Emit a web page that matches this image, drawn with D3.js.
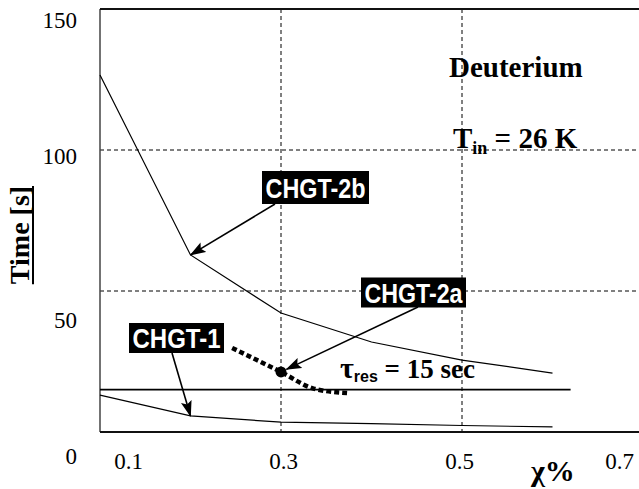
<!DOCTYPE html>
<html><head><meta charset="utf-8">
<script src="https://cdn.jsdelivr.net/npm/d3@7"></script>
<style>
html,body{margin:0;padding:0;background:#fff;}
svg{display:block;}
</style>
</head><body>
<svg id="c" width="639" height="489"></svg>
<script>
// ---- data ----
const xValues = [0.1, 0.2, 0.3, 0.4, 0.5, 0.6];
const chgt2b = [126.6, 62.8, 42.2, 31.9, 25.5, 20.9];
const chgt1 = [13.1, 5.7, 3.5, 3.0, 2.3, 1.8];
const chgt2aX = [0.246, 0.3, 0.336, 0.373];
const chgt2a = [29.8, 21.3, 15.4, 13.8];
const chgt2aPoint = [0.3, 21.3];
const tauRes = 15;
const tauResX = [0.1, 0.62];
const yTicks = [0, 50, 100, 150];
const xTicks = [0.1, 0.3, 0.5, 0.7];
const gridY = [50, 100];
const gridX = [0.3, 0.5];
const labels = ["CHGT-2b", "CHGT-2a", "CHGT-1"];

// ---- scales ----
const svg = d3.select("#c");
const x = d3.scaleLinear().domain([0.1, 0.7]).range([100, 643]);
const y = d3.scaleLinear().domain([0, 150]).range([432, 9]);
// tick labels in the original are displaced from their gridlines
const xLab = d3.scaleLinear().domain(xTicks).range([128, 283, 459, 619]);
const yLab = d3.scaleLinear().domain(yTicks).range([456, 320, 156, 20]);

const serif = "'Liberation Serif','Times New Roman',serif";
const sans = "'Liberation Sans',Arial,sans-serif";

// arrow marker
svg.append("defs").append("marker")
  .attr("id", "ah").attr("markerUnits", "userSpaceOnUse")
  .attr("markerWidth", 16).attr("markerHeight", 12)
  .attr("viewBox", "0 0 16 12").attr("refX", 15).attr("refY", 6)
  .attr("orient", "auto")
  .append("path").attr("d", "M0,0.5 L16,6 L0,11.5 L3,6 Z").attr("fill", "#000");

// gridlines
svg.selectAll(".gy").data(gridY).join("line")
  .attr("x1", x(0.1)).attr("x2", 639)
  .attr("y1", d => y(d)).attr("y2", d => y(d))
  .attr("stroke", "#000").attr("stroke-width", 1).attr("stroke-dasharray", "4,3");
svg.selectAll(".gx").data(gridX).join("line")
  .attr("x1", d => x(d)).attr("x2", d => x(d))
  .attr("y1", y(150)).attr("y2", y(0))
  .attr("stroke", "#000").attr("stroke-width", 1).attr("stroke-dasharray", "4,3");

// frame
svg.append("line").attr("x1", x(0.1)).attr("x2", x(0.1)).attr("y1", y(150)).attr("y2", y(0))
  .attr("stroke", "#444").attr("stroke-width", 1.5);
svg.append("line").attr("x1", x(0.1)).attr("x2", 639).attr("y1", y(150)).attr("y2", y(150))
  .attr("stroke", "#111").attr("stroke-width", 2);
svg.append("line").attr("x1", x(0.1)).attr("x2", 639).attr("y1", y(0)).attr("y2", y(0))
  .attr("stroke", "#111").attr("stroke-width", 2);

// axes (labels only)
const ya = svg.append("g").attr("transform", "translate(77,0)")
  .call(d3.axisLeft(yLab).tickValues(yTicks).tickSize(0).tickPadding(0).tickFormat(d3.format("d")));
const xa = svg.append("g").attr("transform", "translate(0,453)")
  .call(d3.axisBottom(xLab).tickValues(xTicks).tickSize(0).tickPadding(0).tickFormat(d3.format(".1f")));
[ya, xa].forEach(g => {
  g.select(".domain").remove();
  g.selectAll("text").attr("font-family", serif).attr("font-size", 23).attr("fill", "#000");
});

// lines
const line = d3.line().x(d => x(d[0])).y(d => y(d[1]));
svg.append("path").datum(xValues.map((v, i) => [v, chgt2b[i]]))
  .attr("d", line).attr("fill", "none").attr("stroke", "#000").attr("stroke-width", 1.2);
svg.append("path").datum(xValues.map((v, i) => [v, chgt1[i]]))
  .attr("d", line).attr("fill", "none").attr("stroke", "#000").attr("stroke-width", 1.2);
svg.append("path").datum(tauResX.map(v => [v, tauRes]))
  .attr("d", line).attr("fill", "none").attr("stroke", "#000").attr("stroke-width", 1.8);
svg.append("path").datum(chgt2aX.map((v, i) => [v, chgt2a[i]]))
  .attr("d", d3.line().x(d => x(d[0])).y(d => y(d[1])).curve(d3.curveMonotoneX))
  .attr("fill", "none").attr("stroke", "#000").attr("stroke-width", 4.5)
  .attr("stroke-dasharray", "5,3");
svg.append("circle").attr("cx", x(chgt2aPoint[0])).attr("cy", y(chgt2aPoint[1]))
  .attr("r", 5.5).attr("fill", "#000");

// annotation boxes
const boxes = [
  {t: labels[0], cx: 315.5, cy: 187.5, w: 107, h: 33, tail: [275, 204], tip: [0.2, chgt2b[1]], shorten: 0},
  {t: labels[1], cx: 413.5, cy: 292.5, w: 105, h: 30, tail: [418, 307], tip: chgt2aPoint, shorten: 6},
  {t: labels[2], cx: 176.5, cy: 338, w: 95, h: 30, tail: [172, 353], tip: [0.2, chgt1[1]], shorten: 0}
];
boxes.forEach(b => {
  let tx = x(b.tip[0]), ty = y(b.tip[1]);
  const dx = tx - b.tail[0], dy = ty - b.tail[1], L = Math.hypot(dx, dy);
  tx -= dx / L * b.shorten; ty -= dy / L * b.shorten;
  svg.append("line").attr("x1", b.tail[0]).attr("y1", b.tail[1]).attr("x2", tx).attr("y2", ty)
    .attr("stroke", "#000").attr("stroke-width", 1.6).attr("marker-end", "url(#ah)");
  svg.append("rect").attr("x", b.cx - b.w / 2).attr("y", b.cy - b.h / 2)
    .attr("width", b.w).attr("height", b.h).attr("fill", "#000");
  svg.append("text").attr("x", b.cx).attr("y", b.cy + 10)
    .attr("text-anchor", "middle").attr("font-family", sans).attr("font-weight", "bold")
    .attr("font-size", 28).attr("fill", "#fff")
    .attr("textLength", b.w - 7).attr("lengthAdjust", "spacingAndGlyphs").text(b.t);
});

// texts
svg.append("text").attr("x", 449).attr("y", 77).attr("font-family", serif).attr("font-weight", "bold")
  .attr("font-size", 29).text("Deuterium");
const tin = svg.append("text").attr("x", 453).attr("y", 148).attr("font-family", serif)
  .attr("font-weight", "bold").attr("font-size", 29);
tin.append("tspan").text("T");
tin.append("tspan").attr("font-size", 18).attr("dy", 6).text("in");
tin.append("tspan").attr("dy", -6).text(" = 26 K");

const tau = svg.append("text").attr("x", 340).attr("y", 378).attr("font-family", serif)
  .attr("font-weight", "bold").attr("font-size", 27);
tau.append("tspan").attr("font-size", 30).text("τ");
tau.append("tspan").attr("font-family", sans).attr("font-size", 16).attr("dy", 4).text("res");
tau.append("tspan").attr("dy", -4).text(" = 15 sec");

svg.append("text").attr("x", 531).attr("y", 481).attr("font-family", serif)
  .attr("font-weight", "bold").attr("font-size", 30).text("χ%");

// y title
const yt = svg.append("text").attr("transform", "translate(29,235) rotate(-90)")
  .attr("text-anchor", "middle").attr("font-family", serif).attr("font-weight", "bold")
  .attr("font-size", 28).text("Time [s]");
const tl = yt.node().getComputedTextLength();
svg.append("line").attr("x1", 33).attr("x2", 33).attr("y1", 235 - tl / 2).attr("y2", 235 + tl / 2)
  .attr("stroke", "#000").attr("stroke-width", 2);
</script>
</body></html>
